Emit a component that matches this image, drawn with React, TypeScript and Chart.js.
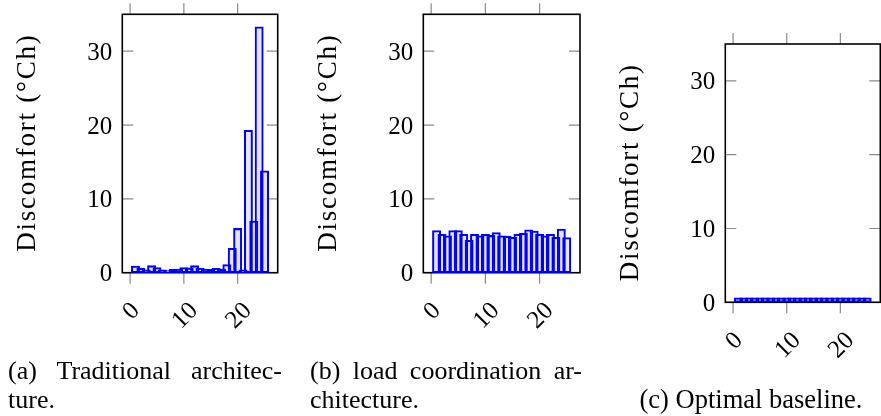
import React, { useEffect, useRef } from 'react';
import { Chart, registerables } from 'chart.js';

Chart.register(...registerables);

// ---- data ----
const HOURS = [1, 2, 3, 4, 5, 6, 7, 8, 9, 10, 11, 12, 13, 14, 15, 16, 17, 18, 19, 20, 21, 22, 23, 24, 25];
const TRADITIONAL = [0.9, 0.6, 0.4, 0.95, 0.7, 0.4, 0.3, 0.45, 0.5, 0.7, 0.65, 0.95, 0.6, 0.5, 0.45, 0.6, 0.45, 1.1, 3.3, 6.0, 0.4, 19.3, 7.0, 33.3, 13.8];
const LOAD_COORDINATION = [5.7, 5.2, 5.0, 5.7, 5.7, 5.2, 4.4, 5.2, 5.0, 5.2, 5.05, 5.45, 5.0, 4.95, 4.8, 5.2, 5.35, 5.8, 5.65, 5.2, 5.0, 5.2, 4.8, 5.9, 4.75];
const OPTIMAL = [0.6, 0.6, 0.6, 0.6, 0.6, 0.6, 0.6, 0.6, 0.6, 0.6, 0.6, 0.6, 0.6, 0.6, 0.6, 0.6, 0.6, 0.6, 0.6, 0.6, 0.6, 0.6, 0.6, 0.6, 0.6];
const X_TICKS = [0, 10, 20];
const Y_TICKS = [0, 10, 20, 30];
const Y_TITLE = 'Discomfort (°Ch)';
const CAPTION_A = ['(a) Traditional architec-', 'ture.'];
const CAPTION_B = ['(b) load coordination ar-', 'chitecture.'];
const CAPTION_C = '(c) Optimal baseline.';

const X_MIN = -1.45;
const X_MAX = 27.45;
const Y_MIN = 0;
const Y_MAX = 35;

const FONT = '"Liberation Serif", "Times New Roman", serif';
const CANVAS_H = 370;
const TITLE_LEN = 218;

type Box = { l: number; r: number; t: number; b: number };

const framePlugin = {
  id: 'pgfFrame',
  beforeDatasetsDraw(chart: any) {
    const { ctx, chartArea: a, scales } = chart;
    const xs = scales.x;
    const ys = scales.y;
    ctx.save();
    // ticks
    ctx.strokeStyle = '#8a8a8a';
    ctx.lineWidth = 1.2;
    ctx.beginPath();
    for (const t of X_TICKS) {
      const px = xs.getPixelForValue(t);
      ctx.moveTo(px, a.bottom);
      ctx.lineTo(px, a.bottom + 11);
      ctx.moveTo(px, a.top);
      ctx.lineTo(px, a.top - 11);
    }
    for (const t of Y_TICKS) {
      const py = ys.getPixelForValue(t);
      ctx.moveTo(a.left, py);
      ctx.lineTo(a.left + 11, py);
      ctx.moveTo(a.right, py);
      ctx.lineTo(a.right - 11, py);
    }
    ctx.stroke();
    // frame
    ctx.strokeStyle = '#000';
    ctx.lineWidth = 1.6;
    ctx.strokeRect(a.left, a.top, a.right - a.left, a.bottom - a.top);

    // tick labels
    ctx.fillStyle = '#000';
    ctx.font = `25px ${FONT}`;
    ctx.textAlign = 'right';
    ctx.textBaseline = 'alphabetic';
    for (const t of Y_TICKS) {
      const py = ys.getPixelForValue(t);
      const m = ctx.measureText(String(t));
      const off = (m.actualBoundingBoxAscent - m.actualBoundingBoxDescent) / 2;
      ctx.fillText(String(t), a.left - 10, py + off);
    }
    for (const t of X_TICKS) {
      const px = xs.getPixelForValue(t);
      const s = String(t);
      const m = ctx.measureText(s);
      const h = m.actualBoundingBoxAscent + m.actualBoundingBoxDescent;
      const rh = (m.width + h) * Math.SQRT1_2;
      const cy = a.bottom + 27 + rh / 2;
      ctx.save();
      ctx.translate(px, cy);
      ctx.rotate(-Math.PI / 4);
      ctx.textAlign = 'center';
      ctx.fillText(s, 0, (m.actualBoundingBoxAscent - m.actualBoundingBoxDescent) / 2);
      ctx.restore();
    }
    // y title
    ctx.save();
    ctx.font = `27px ${FONT}`;
    const base = ctx.measureText(Y_TITLE);
    const spacing = Math.max(0, (TITLE_LEN - base.width) / Y_TITLE.length);
    (ctx as any).letterSpacing = `${spacing.toFixed(2)}px`;
    const mt = ctx.measureText(Y_TITLE);
    ctx.translate(a.left - 94, (a.top + a.bottom) / 2);
    ctx.rotate(-Math.PI / 2);
    ctx.textAlign = 'left';
    ctx.fillText(Y_TITLE, -mt.width / 2 + spacing / 2, (mt.actualBoundingBoxAscent - mt.actualBoundingBoxDescent) / 2);
    ctx.restore();
    ctx.restore();
  },
};

function Panel({ values, left, width, box }: { values: number[]; left: number; width: number; box: Box }) {
  const ref = useRef<HTMLCanvasElement | null>(null);
  useEffect(() => {
    if (!ref.current) return;
    const chart = new Chart(ref.current, {
      type: 'bar',
      data: {
        datasets: [
          {
            data: HOURS.map((h, i) => ({ x: h, y: values[i] })),
            backgroundColor: 'rgba(0,0,255,0.1)',
            borderColor: '#0000ff',
            borderWidth: 1.4,
            borderSkipped: false,
            barThickness: 8.3,
          } as any,
        ],
      },
      options: {
        responsive: false,
        maintainAspectRatio: false,
        animation: false,
        events: [],
        layout: {
          padding: {
            left: box.l - left,
            right: left + width - box.r,
            top: box.t,
            bottom: CANVAS_H - box.b,
          },
        },
        scales: {
          x: { type: 'linear', min: X_MIN, max: X_MAX, display: false, offset: false },
          y: { type: 'linear', min: Y_MIN, max: Y_MAX, display: false },
        },
        plugins: { legend: { display: false }, tooltip: { enabled: false }, title: { display: false } },
      } as any,
      plugins: [framePlugin as any],
    });
    return () => chart.destroy();
  }, [values, left, width, box]);
  return (
    <canvas
      ref={ref}
      width={width}
      height={CANVAS_H}
      style={{ position: 'absolute', left, top: 0, width, height: CANVAS_H }}
    />
  );
}

const BOX_A: Box = { l: 122.3, r: 277.7, t: 14.3, b: 272.7 };
const BOX_B: Box = { l: 423.3, r: 580, t: 14.3, b: 272.7 };
const BOX_C: Box = { l: 725.3, r: 880.3, t: 44, b: 302.3 };

const capStyle: React.CSSProperties = {
  position: 'absolute',
  fontFamily: FONT,
  fontSize: 26,
  lineHeight: '29px',
  color: '#000',
  whiteSpace: 'nowrap',
};

export default function App() {
  return (
    <div style={{ position: 'absolute', left: 0, top: 0, width: 881, height: 416, background: '#fff', overflow: 'hidden' }}>
      <Panel values={TRADITIONAL} left={0} width={300} box={BOX_A} />
      <Panel values={LOAD_COORDINATION} left={300} width={300} box={BOX_B} />
      <Panel values={OPTIMAL} left={600} width={281} box={BOX_C} />
      <div style={{ ...capStyle, left: 8, top: 356, width: 274, textAlign: 'justify', textAlignLast: 'justify', whiteSpace: 'normal' }}>{CAPTION_A[0]}</div>
      <div style={{ ...capStyle, left: 8, top: 385 }}>{CAPTION_A[1]}</div>
      <div style={{ ...capStyle, left: 310, top: 356, width: 272, textAlign: 'justify', textAlignLast: 'justify', whiteSpace: 'normal' }}>{CAPTION_B[0]}</div>
      <div style={{ ...capStyle, left: 310, top: 385 }}>{CAPTION_B[1]}</div>
      <div style={{ ...capStyle, left: 600, top: 385, width: 302, textAlign: 'center', fontSize: 26.5 }}>{CAPTION_C}</div>
    </div>
  );
}
